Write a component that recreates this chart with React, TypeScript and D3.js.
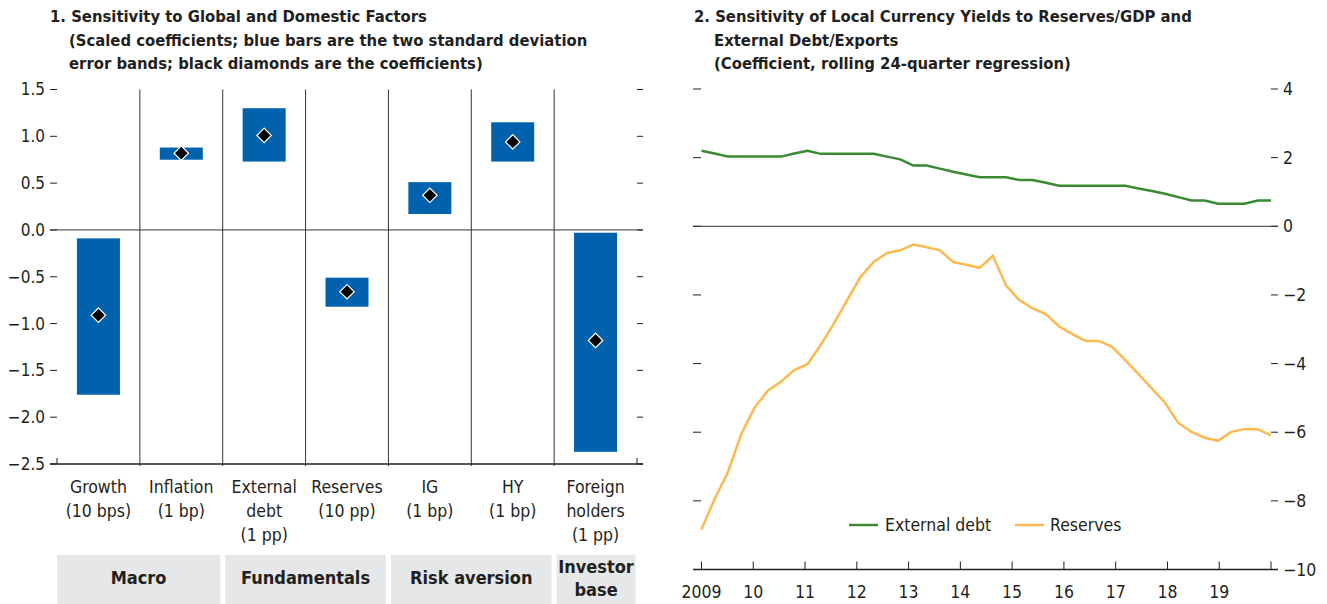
import * as d3 from "d3";

// ---- panel 1 data ----
const categories = [
  ["Growth", "(10 bps)"],
  ["Inflation", "(1 bp)"],
  ["External", "debt", "(1 pp)"],
  ["Reserves", "(10 pp)"],
  ["IG", "(1 bp)"],
  ["HY", "(1 bp)"],
  ["Foreign", "holders", "(1 pp)"],
];
const bandLow = [-1.76, 0.75, 0.73, -0.82, 0.17, 0.73, -2.37];
const bandHigh = [-0.09, 0.88, 1.3, -0.51, 0.51, 1.15, -0.03];
const coefficients = [-0.91, 0.82, 1.01, -0.66, 0.37, 0.94, -1.18];
const groupNames = [["Macro"], ["Fundamentals"], ["Risk aversion"], ["Investor", "base"]];
const groupSizes = [2, 2, 2, 1];
const leftTicks = [1.5, 1.0, 0.5, 0.0, -0.5, -1.0, -1.5, -2.0, -2.5];

// ---- panel 2 data (quarterly, 2009 to 2020) ----
const externalDebt = [
  2.2, 2.12, 2.03, 2.03, 2.03, 2.03, 2.03, 2.12, 2.2, 2.11, 2.11, 2.11, 2.11, 2.11, 2.03,
  1.95, 1.77, 1.77, 1.68, 1.59, 1.51, 1.43, 1.43, 1.43, 1.35, 1.35, 1.27, 1.18, 1.18, 1.18,
  1.18, 1.18, 1.18, 1.1, 1.03, 0.95, 0.85, 0.75, 0.75, 0.66, 0.66, 0.66, 0.75, 0.75,
];
const reserves = [
  -8.83, -7.94, -7.16, -6.06, -5.29, -4.79, -4.53, -4.19, -4.02, -3.46, -2.83, -2.15, -1.48,
  -1.04, -0.78, -0.7, -0.53, -0.61, -0.7, -1.04, -1.12, -1.21, -0.86, -1.73, -2.15, -2.39,
  -2.56, -2.92, -3.14, -3.34, -3.34, -3.51, -3.9, -4.31, -4.72, -5.14, -5.73, -5.99, -6.16,
  -6.25, -5.99, -5.91, -5.91, -6.09,
];
const years = [2009, 2010, 2011, 2012, 2013, 2014, 2015, 2016, 2017, 2018, 2019, 2020];
const yearLabels = ["2009", "10", "11", "12", "13", "14", "15", "16", "17", "18", "19", ""];
const rightTicks = [4, 2, 0, -2, -4, -6, -8, -10];

const BLUE = "#0061ad";
const GREEN = "#3a8a34";
const YELLOW = "#fdb94f";
const INK = "#231f20";
const FONT = "'Liberation Sans Narrow', 'DejaVu Sans Condensed', 'Liberation Sans', sans-serif";

const minus = (s: string) => s.replace("-", "\u2212");

export default function App() {
  // panel 1 scales
  const x1 = d3.scaleBand<number>().domain(d3.range(categories.length)).range([57, 637]);
  const y1 = d3.scaleLinear().domain([-2.5, 1.5]).range([464, 89.5]);
  const barW = 43;
  const diamond = d3.symbol().type(d3.symbolSquare).size(104)();

  // group boxes
  let acc = 0;
  const boxes = groupSizes.map((n, i) => {
    const x0 = x1(acc)! + (i === 0 ? 0 : 2.5);
    acc += n;
    const end = acc < categories.length ? x1(acc)! - 2.5 : x1.range()[1] - 1.5;
    return { x0, x1: end, label: groupNames[i] };
  });

  // panel 2 scales
  const xYear = d3.scaleLinear().domain([2009, 2020]).range([701.5, 1271]);
  const xIdx = d3.scaleLinear().domain([0, externalDebt.length - 1]).range(xYear.range());
  const y2 = d3.scaleLinear().domain([-10, 4]).range([569.5, 89]);
  const line = d3
    .line<number>()
    .x((_, i) => xIdx(i))
    .y((d) => y2(d));

  return (
    <svg
      width={1327}
      height={604}
      style={{ position: "absolute", left: 0, top: 0, background: "#fff" }}
      fontFamily={FONT}
      fill={INK}
    >
      {/* titles */}
      <g fontWeight="bold" fontSize={16.5}>
        <text x={50} y={22}>1. Sensitivity to Global and Domestic Factors</text>
        <text x={69} y={46}>(Scaled coefficients; blue bars are the two standard deviation</text>
        <text x={69} y={69}>error bands; black diamonds are the coefficients)</text>
        <text x={694} y={22}>2. Sensitivity of Local Currency Yields to Reserves/GDP and</text>
        <text x={714} y={46}>External Debt/Exports</text>
        <text x={714} y={69}>(Coefficient, rolling 24-quarter regression)</text>
      </g>

      {/* ---- panel 1 ---- */}
      <g>
        {leftTicks.map((t) => (
          <g key={t}>
            <line x1={50} x2={57} y1={y1(t)} y2={y1(t)} stroke={INK} />
            <line x1={637} x2={643} y1={y1(t)} y2={y1(t)} stroke={INK} />
            <text x={45} y={y1(t)} dy="0.35em" textAnchor="end" fontSize={17}>
              {minus(t.toFixed(1))}
            </text>
          </g>
        ))}
        {d3.range(1, categories.length).map((i) => (
          <line key={i} x1={x1(i)} x2={x1(i)} y1={y1(1.5)} y2={y1(-2.5) + 2} stroke="#333" />
        ))}
        <line x1={57} x2={57} y1={y1(-2.5) - 6} y2={y1(-2.5)} stroke={INK} />
        <line x1={637} x2={637} y1={y1(-2.5) - 6} y2={y1(-2.5)} stroke={INK} />
        {categories.map((_, i) => {
          const cx = x1(i)! + x1.bandwidth() / 2;
          return (
            <g key={i}>
              <rect
                x={cx - barW / 2}
                width={barW}
                y={y1(bandHigh[i])}
                height={y1(bandLow[i]) - y1(bandHigh[i])}
                fill={BLUE}
              />
              <path
                d={diamond!}
                transform={`translate(${cx},${y1(coefficients[i])}) rotate(45)`}
                fill="#000"
                stroke="#fff"
                strokeWidth={1.2}
              />
            </g>
          );
        })}
        <line x1={50} x2={643} y1={y1(0)} y2={y1(0)} stroke="#333" />
        <line x1={50} x2={643} y1={y1(-2.5)} y2={y1(-2.5)} stroke={INK} strokeWidth={1.5} />
        {categories.map((lines, i) => {
          const cx = x1(i)! + x1.bandwidth() / 2;
          return (
            <text key={i} x={cx} textAnchor="middle" fontSize={17.5}>
              {lines.map((l, k) => (
                <tspan key={k} x={cx} y={493 + k * 24}>
                  {l}
                </tspan>
              ))}
            </text>
          );
        })}
        {boxes.map((b, i) => {
          const cx = (b.x0 + b.x1) / 2;
          const y0 = b.label.length > 1 ? 573 : 584;
          return (
            <g key={i}>
              <rect x={b.x0} width={b.x1 - b.x0} y={555} height={60} fill="#e6e7e8" />
              <text x={cx} textAnchor="middle" fontWeight="bold" fontSize={18}>
                {b.label.map((l, k) => (
                  <tspan key={k} x={cx} y={y0 + k * 23}>
                    {l}
                  </tspan>
                ))}
              </text>
            </g>
          );
        })}
      </g>

      {/* ---- panel 2 ---- */}
      <g>
        {rightTicks.map((t) => (
          <g key={t}>
            <line x1={693} x2={701} y1={y2(t)} y2={y2(t)} stroke={INK} />
            <line x1={1271} x2={1278} y1={y2(t)} y2={y2(t)} stroke={INK} />
            <text x={1283} y={y2(t)} dy="0.35em" fontSize={17.5}>
              {minus(String(t))}
            </text>
          </g>
        ))}
        <line x1={693} x2={1278} y1={y2(0)} y2={y2(0)} stroke="#333" />
        <line x1={693} x2={1278} y1={y2(-10)} y2={y2(-10)} stroke={INK} strokeWidth={1.5} />
        {years.map((yr, i) => (
          <g key={yr}>
            <line x1={xYear(yr)} x2={xYear(yr)} y1={y2(-10) - 8} y2={y2(-10)} stroke={INK} />
            <text x={xYear(yr)} y={598} textAnchor="middle" fontSize={17.5}>
              {yearLabels[i]}
            </text>
          </g>
        ))}
        <path d={line(externalDebt)!} fill="none" stroke={GREEN} strokeWidth={2.5} />
        <path d={line(reserves)!} fill="none" stroke={YELLOW} strokeWidth={2.5} />
        <line x1={849} x2={878} y1={525} y2={525} stroke={GREEN} strokeWidth={2.5} />
        <text x={885} y={531} fontSize={17.5}>External debt</text>
        <line x1={1015} x2={1044} y1={525} y2={525} stroke={YELLOW} strokeWidth={2.5} />
        <text x={1050} y={531} fontSize={17.5}>Reserves</text>
      </g>
    </svg>
  );
}
